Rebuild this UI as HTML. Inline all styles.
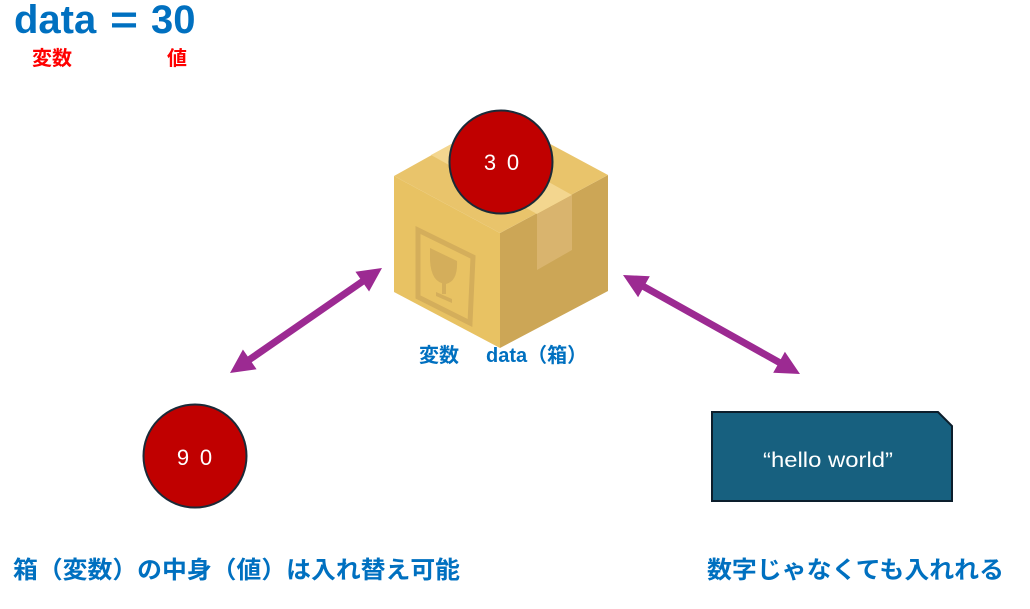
<!DOCTYPE html>
<html>
<head>
<meta charset="utf-8">
<style>
html,body{margin:0;padding:0;background:#fff;}
svg{display:block;}
.jp{font-family:"Liberation Sans","Noto Sans CJK JP",sans-serif;}
</style>
</head>
<body>
<svg width="1030" height="609" viewBox="0 0 1030 609" xmlns="http://www.w3.org/2000/svg">

  <!-- Title -->
  <text x="14" y="33" font-family="Liberation Sans, sans-serif" font-weight="bold" font-size="40" fill="#0070C0">data</text>
  <text x="110" y="33" font-family="Liberation Sans, sans-serif" font-weight="bold" font-size="40" fill="#0070C0" textLength="28" lengthAdjust="spacingAndGlyphs">=</text>
  <text x="151" y="33" font-family="Liberation Sans, sans-serif" font-weight="bold" font-size="40" fill="#0070C0">30</text>
  <text x="32" y="65" class="jp" font-weight="bold" font-size="20" fill="#FF0000">変数</text>
  <text x="167" y="65" class="jp" font-weight="bold" font-size="20" fill="#FF0000">値</text>

  <!-- Box -->
  <polygon points="394,176 500,233 500,348 394,292" fill="#E8C263"/>
  <polygon points="500,233 608,175 608,291 500,348" fill="#CCA656"/>
  <polygon points="394,176 500,117 608,175 500,233" fill="#E9C46B"/>
  <polygon points="431,155 466,136 572,195 537,214" fill="#F3D68F"/>
  <polygon points="537,214 572,195 572,250 537,270" fill="#D9B46E"/>
  <!-- fragile symbol -->
  <polygon points="418,230 473,257 470,323 418,297" fill="none" stroke="#D4AE5B" stroke-width="5"/>
  <path d="M430,248 L457,261 Q458,281 446,284 Q431,283 430,260 Z" fill="#D4AE5B"/>
  <rect x="442" y="282" width="4" height="12" fill="#D4AE5B"/>
  <polygon points="436,292 452,299 452,303 436,296" fill="#D4AE5B"/>

  <!-- circle 30 -->
  <circle cx="501" cy="162" r="51.5" fill="#C00000" stroke="#1A2A38" stroke-width="2"/>
  <text x="490" y="170" text-anchor="middle" font-family="Liberation Sans, sans-serif" font-size="22" fill="#FFFFFF">3</text>
  <text x="513" y="170" text-anchor="middle" font-family="Liberation Sans, sans-serif" font-size="22" fill="#FFFFFF">0</text>

  <!-- box label -->
  <text x="419" y="362" class="jp" font-weight="bold" font-size="20" fill="#0070C0">変数</text>
  <text x="486" y="362" class="jp" font-weight="bold" font-size="20" fill="#0070C0">data（箱）</text>

  <!-- arrows -->
  <polygon fill="#9C2A92" points="382,268 369.07,291.51 364.24,284.51 251.74,362.25 256.57,369.25 230,373 242.93,349.49 247.76,356.49 360.26,278.75 355.43,271.75"/>
  <polygon fill="#9C2A92" points="623,275 638.09,297.19 642.24,289.77 777.34,365.35 773.19,372.77 800,374 784.91,351.81 780.76,359.23 645.66,283.65 649.81,276.23"/>

  <!-- circle 90 -->
  <circle cx="195" cy="456" r="51.5" fill="#C00000" stroke="#1A2A38" stroke-width="2"/>
  <text x="183" y="465" text-anchor="middle" font-family="Liberation Sans, sans-serif" font-size="22" fill="#FFFFFF">9</text>
  <text x="206" y="465" text-anchor="middle" font-family="Liberation Sans, sans-serif" font-size="22" fill="#FFFFFF">0</text>

  <!-- hello world box -->
  <polygon points="712,412 938,412 952,426 952,501 712,501" fill="#17607F" stroke="#0C1E2C" stroke-width="2"/>
  <text x="763" y="467" font-family="Liberation Sans, sans-serif" font-size="21" fill="#FFFFFF" textLength="130" lengthAdjust="spacingAndGlyphs">“hello world”</text>

  <!-- bottom texts -->
  <text x="13" y="578" class="jp" font-weight="bold" font-size="24" fill="#0070C0" textLength="447" lengthAdjust="spacingAndGlyphs">箱（変数）の中身（値）は入れ替え可能</text>
  <text x="707" y="578" class="jp" font-weight="bold" font-size="24" fill="#0070C0" textLength="297" lengthAdjust="spacingAndGlyphs">数字じゃなくても入れれる</text>
</svg>
</body>
</html>
